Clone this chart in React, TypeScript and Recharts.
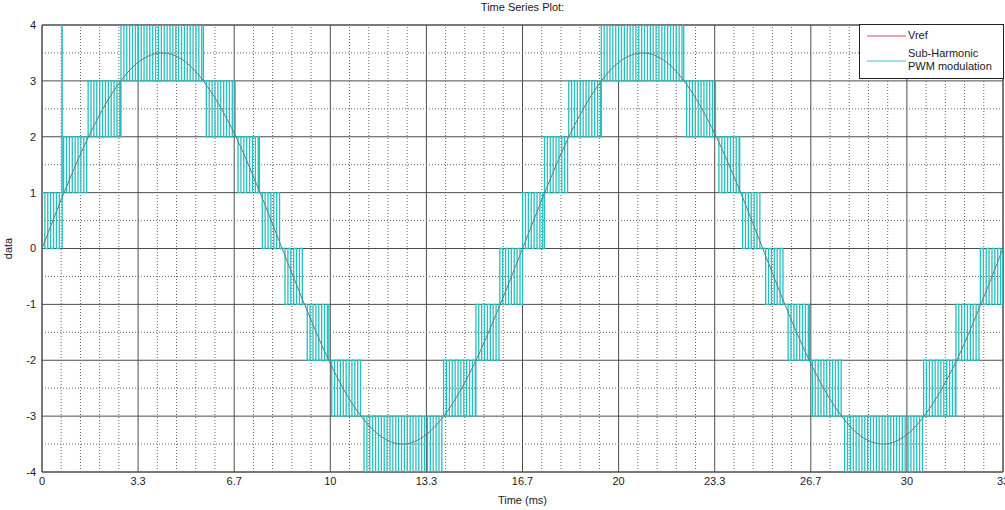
import React from 'react';
import {
  LineChart,
  Line,
  XAxis,
  YAxis,
  CartesianGrid,
  ReferenceLine,
  ReferenceArea,
} from 'recharts';

// Reference sine (ms, value)
const vrefTimes = [
  0, 0.83, 1.67, 2.5, 3.33, 4.17, 5, 5.83, 6.67, 7.5, 8.33, 9.17, 10, 10.83, 11.67, 12.5, 13.33,
  14.17, 15, 15.83, 16.67, 17.5, 18.33, 19.17, 20, 20.83, 21.67, 22.5, 23.33, 24.17, 25, 25.83,
  26.67, 27.5, 28.33, 29.17, 30, 30.83, 31.67, 32.5, 33.33,
];
const vrefValues = [
  0, 1.08, 2.06, 2.83, 3.33, 3.5, 3.33, 2.83, 2.06, 1.08, 0, -1.08, -2.06, -2.83, -3.33, -3.5, -3.33,
  -2.83, -2.06, -1.08, 0, 1.08, 2.06, 2.83, 3.33, 3.5, 3.33, 2.83, 2.06, 1.08, 0, -1.08, -2.06,
  -2.83, -3.33, -3.5, -3.33, -2.83, -2.06, -1.08, 0,
];

// PWM switching bands: edges in ms and the lower level of each band (upper = lower + 1)
const pwmBandEdges = [
  0, 0.75, 1.6, 2.74, 5.6, 6.7, 7.54, 8.33, 9.1, 9.95, 11.07, 13.93, 15.05, 15.88, 16.67, 17.43,
  18.27, 19.4, 22.26, 23.38, 24.2, 25, 25.78, 26.62, 27.74, 30.58, 31.7, 32.55, 33.33,
];
const pwmBandLow = [
  0, 1, 2, 3, 2, 1, 0, -1, -2, -3, -4, -3, -2, -1, 0, 1, 2, 3, 2, 1, 0, -1, -2, -3, -4, -3, -2, -1,
];
const pwmHalfPeriod = 0.1; // carrier half period, ms
const pwmSpikes = [{ t: 0.69, v: 4 }];

const xTicks = [0, 3.3333, 6.6667, 10, 13.3333, 16.6667, 20, 23.3333, 26.6667, 30, 33.3333];
const xTickLabels = ['0', '3.3', '6.7', '10', '13.3', '16.7', '20', '23.3', '26.7', '30', '33'];
const yTicks = [-4, -3, -2, -1, 0, 1, 2, 3, 4];

const vrefData = vrefTimes.map((t, i) => ({ t, v: vrefValues[i] }));

const buildPwm = () => {
  const rows: { t: number; v: number }[] = [];
  pwmBandLow.forEach((low, i) => {
    const start = pwmBandEdges[i];
    const end = pwmBandEdges[i + 1];
    let k = 0;
    for (let t = start; t < end - 1e-6; t += pwmHalfPeriod, k++) {
      rows.push({ t, v: k % 2 === 0 ? low + 1 : low });
    }
  });
  pwmSpikes.forEach((s) => {
    const prev = [...rows].reverse().find((r) => r.t <= s.t);
    rows.push({ t: s.t, v: s.v });
    rows.push({ t: s.t + 0.01, v: prev ? prev.v : 0 });
  });
  rows.sort((a, b) => a.t - b.t);
  rows.push({ t: 33.3333, v: 0 });
  return rows;
};
const pwmData = buildPwm();

const minorX: number[] = [];
for (let i = 0; i < xTicks.length - 1; i++) {
  const step = (xTicks[i + 1] - xTicks[i]) / 5;
  for (let j = 1; j < 5; j++) minorX.push(xTicks[i] + step * j);
}
const minorY = [-3.5, -2.5, -1.5, -0.5, 0.5, 1.5, 2.5, 3.5];

const FONT = 'Arial, "Liberation Sans", Helvetica, sans-serif';
const tickStyle = { fontSize: 11, fill: '#1a1a1a', fontFamily: FONT };

export default function App() {
  return (
    <div
      style={{
        position: 'absolute',
        left: 0,
        top: 0,
        width: 1005,
        height: 510,
        background: '#fff',
        fontFamily: FONT,
        overflow: 'hidden',
      }}
    >
      <div
        style={{
          position: 'absolute',
          left: 42,
          width: 961,
          top: 1,
          textAlign: 'center',
          fontSize: 11,
          lineHeight: '13px',
          color: '#1a1a1a',
        }}
      >
        Time Series Plot:
      </div>
      <LineChart
        width={1005}
        height={510}
        margin={{ top: 25, right: 2, bottom: 0, left: 0 }}
      >
        {minorX.map((x) => (
          <ReferenceLine key={`mx${x}`} x={x} stroke="#666" strokeDasharray="1 2" />
        ))}
        {minorY.map((y) => (
          <ReferenceLine key={`my${y}`} y={y} stroke="#666" strokeDasharray="1 2" />
        ))}
        <CartesianGrid stroke="#4d4d4d" strokeWidth={1} />
        <XAxis
          type="number"
          dataKey="t"
          domain={[0, 33.3333]}
          ticks={xTicks}
          interval={0}
          allowDataOverflow
          tickFormatter={(v, i) => xTickLabels[i] ?? String(v)}
          tick={tickStyle}
          tickLine={false}
          axisLine={false}
          tickSize={0}
          tickMargin={5}
          height={38}
          label={{ value: 'Time (ms)', position: 'insideBottom', offset: 6, style: tickStyle }}
        />
        <YAxis
          type="number"
          domain={[-4, 4]}
          ticks={yTicks}
          interval={0}
          allowDataOverflow
          tick={tickStyle}
          tickLine={false}
          axisLine={false}
          tickSize={0}
          tickMargin={6}
          width={42}
          label={{ value: 'data', angle: -90, position: 'insideLeft', offset: 8, style: { ...tickStyle, textAnchor: 'middle' } }}
        />
        <Line
          data={pwmData}
          dataKey="v"
          type="stepAfter"
          stroke="#26bfbf"
          strokeWidth={1.3}
          dot={false}
          isAnimationActive={false}
        />
        <Line
          data={vrefData}
          dataKey="v"
          type="monotone"
          stroke="#5f7b80"
          strokeWidth={1}
          dot={false}
          isAnimationActive={false}
        />
        <ReferenceArea x1={0} x2={33.3333} y1={-4} y2={4} fill="none" stroke="#4d4d4d" />
      </LineChart>
      <div
        style={{
          position: 'absolute',
          left: 859,
          top: 24,
          width: 143,
          height: 53,
          border: '1px solid #222',
          background: '#fff',
          fontSize: 11,
          color: '#1a1a1a',
          lineHeight: '13px',
        }}
      >
        <svg width={42} height={53} style={{ position: 'absolute', left: 6, top: 0 }}>
          <line x1={1} x2={40} y1={11} y2={11} stroke="#d04a5a" strokeWidth={1} />
          <line x1={1} x2={40} y1={36} y2={36} stroke="#3cc4c8" strokeWidth={1} />
        </svg>
        <div style={{ position: 'absolute', left: 48, top: 4 }}>Vref</div>
        <div style={{ position: 'absolute', left: 48, top: 22 }}>
          Sub-Harmonic
          <br />
          PWM modulation
        </div>
      </div>
    </div>
  );
}
